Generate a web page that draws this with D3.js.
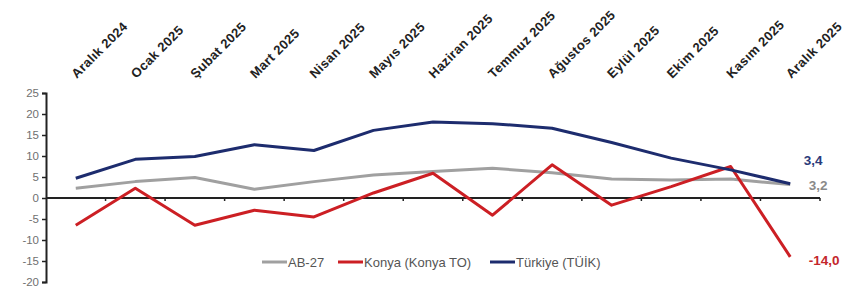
<!DOCTYPE html>
<html><head><meta charset="utf-8">
<script src="https://cdn.jsdelivr.net/npm/d3@7"></script>
<style>
html,body{margin:0;padding:0;background:#fff;}
svg{display:block;font-family:"Liberation Sans",Arial,sans-serif;}
</style></head>
<body><svg id="c" width="868" height="295"></svg>
<script>
const categories = ["Aralık 2024","Ocak 2025","Şubat 2025","Mart 2025","Nisan 2025","Mayıs 2025","Haziran 2025","Temmuz 2025","Ağustos 2025","Eylül 2025","Ekim 2025","Kasım 2025","Aralık 2025"];
const ab27 = [2.3,3.9,4.9,2.1,3.9,5.5,6.3,7.1,6.0,4.5,4.3,4.5,3.2];
const konya = [-6.5,2.3,-6.5,-2.9,-4.5,1.2,5.9,-4.1,7.9,-1.7,2.7,7.5,-14.0];
const turkiye = [4.7,9.2,9.9,12.7,11.3,16.1,18.1,17.7,16.6,13.2,9.5,6.7,3.4];
const seriesNames = ["AB-27","Konya (Konya TO)","Türkiye (TÜİK)"];
const yTicks = [-20,-15,-10,-5,0,5,10,15,20,25];
const endLabels = ["3,2","-14,0","3,4"];

const colors = ["#a0a0a0","#cc1f24","#1d2c6e"];
const labelColors = ["#8a8a8a","#c4262c","#2b3a7a"];
const series = [ab27, konya, turkiye];

const svg = d3.select("#c");
const L = 46, R = 820, T = 93, B = 282;
const x = d3.scaleBand().domain(categories).range([L, R]);
const y = d3.scaleLinear().domain([-20, 25]).range([B, T]);
const cx = c => x(c) + x.bandwidth() / 2;

// y axis
const ya = svg.append("g").attr("transform", `translate(${L},0)`)
  .call(d3.axisLeft(y).tickValues(yTicks).tickSize(4).tickFormat(d => String(d)));
ya.select(".domain").attr("stroke", "#222").attr("stroke-width", 2);
ya.selectAll(".tick line").attr("stroke", "#222").attr("stroke-width", 1.5);
ya.selectAll(".tick text").attr("fill", "#707070").attr("font-size", 11.5).attr("x", -7);

// zero axis
const bounds = d3.range(categories.length + 1).map(i => L + i * x.step());
svg.append("line").attr("x1", L).attr("x2", R).attr("y1", y(0)).attr("y2", y(0))
  .attr("stroke", "#222").attr("stroke-width", 2);
svg.append("g").selectAll("line").data(bounds.slice(1)).join("line")
  .attr("x1", d => d).attr("x2", d => d).attr("y1", y(0)).attr("y2", y(0) + 3)
  .attr("stroke", "#222").attr("stroke-width", 1.5);

// category labels
svg.append("g").selectAll("text").data(categories).join("text")
  .attr("transform", d => `translate(${cx(d) + 1},79) rotate(-45)`)
  .attr("font-size", 13).attr("font-weight", "bold").attr("fill", "#222")
  .attr("letter-spacing", 0.4)
  .text(d => d);

// lines
const line = d3.line().x((d, i) => cx(categories[i])).y(d => y(d));
series.forEach((s, k) => {
  svg.append("path").datum(s).attr("d", line).attr("fill", "none")
    .attr("stroke", colors[k]).attr("stroke-width", 3).attr("stroke-linejoin", "round");
});

// end labels
const last = categories[categories.length - 1];
const offs = [[18.5, 5.5], [18.5, 8.5], [13.5, -18.5]];
series.forEach((s, k) => {
  svg.append("text").attr("x", cx(last) + offs[k][0]).attr("y", y(s[s.length - 1]) + offs[k][1])
    .attr("font-size", 13.5).attr("font-weight", "bold").attr("fill", labelColors[k])
    .text(endLabels[k]);
});

// legend
const legX = [262, 338, 490];
const lg = svg.append("g");
seriesNames.forEach((n, k) => {
  lg.append("line").attr("x1", legX[k]).attr("x2", legX[k] + 25).attr("y1", 262).attr("y2", 262)
    .attr("stroke", colors[k]).attr("stroke-width", 3);
  lg.append("text").attr("x", legX[k] + 26).attr("y", 266.5).attr("font-size", 13)
    .attr("fill", "#555").text(n);
});
</script></body></html>
